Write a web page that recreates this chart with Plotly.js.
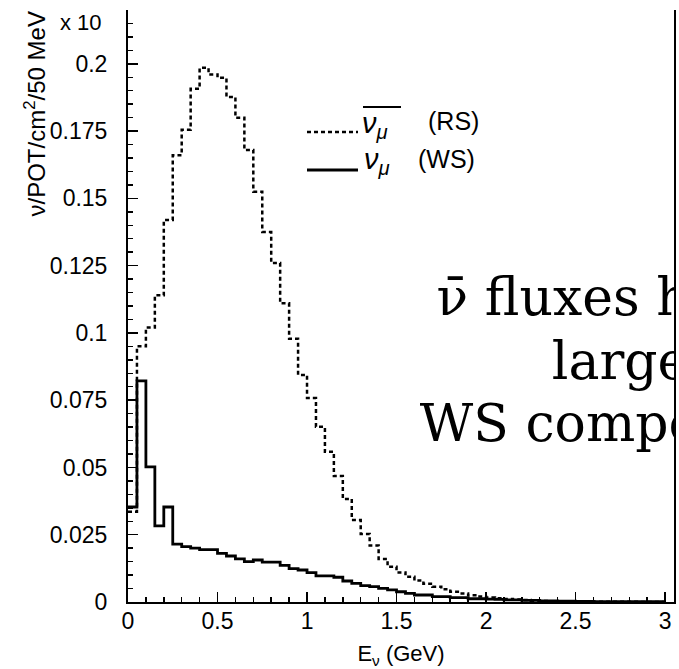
<!DOCTYPE html>
<html>
<head>
<meta charset="utf-8">
<script src="https://cdn.plot.ly/plotly-3.0.1.min.js"></script>
<style>html,body{margin:0;padding:0;background:#fff;}#chart{width:679px;height:669px;}</style>
</head>
<body>
<div id="chart"></div>
<script>
// Energy bins: lower edges (GeV), 50 MeV wide
const binLow = [0.00,0.05,0.10,0.15,0.20,0.25,0.30,0.35,0.40,0.45,
  0.50,0.55,0.60,0.65,0.70,0.75,0.80,0.85,0.90,0.95,
  1.00,1.05,1.10,1.15,1.20,1.25,1.30,1.35,1.40,1.45,
  1.50,1.55,1.60,1.65,1.70,1.75,1.80,1.85,1.90,1.95,
  2.00,2.05,2.10,2.15,2.20,2.25,2.30,2.35,2.40,2.45,
  2.50,2.55,2.60,2.65,2.70,2.75,2.80,2.85,2.90,2.95];
const binWidth = 0.05;
// anti-numu right-sign flux
const fluxRS = [0.0335,0.095,0.102,0.114,0.142,0.166,0.1755,0.1907,0.1985,0.196,
  0.1948,0.1877,0.180,0.168,0.1525,0.1375,0.126,0.111,0.0978,0.0844,
  0.0758,0.0651,0.0558,0.0468,0.0383,0.0305,0.0253,0.021,0.016,0.0131,
  0.0110,0.0094,0.0080,0.0068,0.0057,0.0047,0.0038,0.0032,0.0025,0.0020,
  0.0017,0.0014,0.0011,0.0009,0.0007,0.0005,0.0004,0.0003,0.0002,0.0002,
  0.0001,0.0001,0.0001,0.0001,0.0001,0.0001,0.0001,0.0,0.0,0.0];
// numu wrong-sign flux
const fluxWS = [0.0353,0.0822,0.0502,0.0283,0.0353,0.0215,0.0206,0.0200,0.0195,0.0195,
  0.0181,0.0171,0.0160,0.0150,0.0156,0.0148,0.0148,0.0136,0.0124,0.0119,
  0.0109,0.0097,0.0097,0.0092,0.0078,0.0069,0.0061,0.0057,0.0051,0.0045,
  0.0038,0.0032,0.0026,0.0026,0.0020,0.0020,0.0016,0.0016,0.0012,0.0012,
  0.0011,0.0010,0.0008,0.0008,0.0006,0.0006,0.0004,0.0004,0.0003,0.0003,
  0.0002,0.0002,0.0001,0.0001,0.0001,0.0001,0.0001,0.0001,0.0001,0.0001];
const xTickVals = [0,0.5,1,1.5,2,2.5,3];
const xTickText = ['0','0.5','1','1.5','2','2.5','3'];
const yTickVals = [0,0.025,0.05,0.075,0.1,0.125,0.15,0.175,0.2];
const yTickText = ['0','0.025','0.05','0.075','0.1','0.125','0.15','0.175','0.2'];
const overlayLines = ['\u03bd\u0304 fluxes have a','larger','WS components'];

// step-histogram helper (bin edges + values)
function stepX(){ return binLow.concat([binLow[binLow.length-1]+binWidth]); }
function stepY(v){ return v.concat([v[v.length-1]]); }

// layout geometry (pixels)
const W=679,H=669,L=128,R=674,T=10,B=602;
const XMAX=3.05, YMAX=0.22;
const pxX = p => (p-L)/(R-L);
const pxY = p => (B-p)/(B-T);
const dataX = p => pxX(p)*XMAX;
const dataY = p => pxY(p)*YMAX;

const FONT = 'Liberation Sans, Arial, sans-serif';

const traces = [
  {x: stepX(), y: stepY(fluxRS), type:'scatter', mode:'lines', name:'anti-nu_mu (RS)',
   line:{shape:'hv', color:'#000', width:2.5, dash:'4px,3px'}, hoverinfo:'skip'},
  {x: stepX(), y: stepY(fluxWS), type:'scatter', mode:'lines', name:'nu_mu (WS)',
   line:{shape:'hv', color:'#000', width:2.8}, hoverinfo:'skip'},
  {x: [dataX(632.5),dataX(632.5),dataX(632.5)], y:[dataY(302),dataY(366),dataY(428)],
   text: overlayLines, type:'scatter', mode:'text', textposition:'middle center',
   cliponaxis:true, hoverinfo:'skip', showlegend:false,
   textfont:{family:'DejaVu Serif, serif', size:52, color:'#000'}}
];

const layout = {
  width:W, height:H,
  margin:{l:L, r:W-R, t:T, b:H-B, pad:0},
  paper_bgcolor:'#fff', plot_bgcolor:'#fff',
  showlegend:false,
  font:{family:FONT, color:'#000', size:23},
  xaxis:{range:[0,XMAX], tickmode:'array', tickvals:xTickVals, ticktext:xTickText,
    ticks:'inside', ticklen:10, tickwidth:1.5, tickcolor:'#000',
    minor:{dtick:0.1, tick0:0, ticks:'inside', ticklen:5, tickwidth:1.5, tickcolor:'#000'},
    showline:true, linewidth:2, linecolor:'#000', mirror:false,
    showgrid:false, zeroline:false, ticklabelstandoff:-3,
    tickfont:{family:FONT, size:23, color:'#000'},
    title:{text:'E<sub>\u03bd</sub> (GeV)', font:{family:FONT, size:22, color:'#000'}, standoff:14}},
  yaxis:{range:[0,YMAX], tickmode:'array', tickvals:yTickVals, ticktext:yTickText,
    ticks:'inside', ticklen:10, tickwidth:1.5, tickcolor:'#000',
    minor:{dtick:0.005, tick0:0, ticks:'inside', ticklen:5, tickwidth:1.5, tickcolor:'#000'},
    showline:true, linewidth:2, linecolor:'#000', mirror:true,
    showgrid:false, zeroline:false, ticklabelstandoff:14,
    tickfont:{family:FONT, size:23, color:'#000'}},
  shapes:[
    {type:'line', xref:'paper', yref:'paper', x0:pxX(307), x1:pxX(358), y0:pxY(132), y1:pxY(132),
     line:{color:'#000', width:2.5, dash:'4px,3px'}},
    {type:'line', xref:'paper', yref:'paper', x0:pxX(307), x1:pxX(358), y0:pxY(170), y1:pxY(170),
     line:{color:'#000', width:2.8}},
    {type:'line', xref:'paper', yref:'paper', x0:pxX(363), x1:pxX(401), y0:pxY(107), y1:pxY(107),
     line:{color:'#000', width:2}}
  ],
  annotations:[
    {xref:'paper', yref:'paper', x:pxX(360), y:pxY(125), xanchor:'left', yanchor:'middle',
     text:'<i>\u03bd</i><sub><i>\u03bc</i></sub>', showarrow:false,
     font:{family:FONT, size:29, color:'#000'}},
    {xref:'paper', yref:'paper', x:pxX(426), y:pxY(121), xanchor:'left', yanchor:'middle',
     text:'(RS)', showarrow:false, font:{family:FONT, size:25, color:'#000'}},
    {xref:'paper', yref:'paper', x:pxX(362), y:pxY(161), xanchor:'left', yanchor:'middle',
     text:'<i>\u03bd</i><sub><i>\u03bc</i></sub>', showarrow:false,
     font:{family:FONT, size:29, color:'#000'}},
    {xref:'paper', yref:'paper', x:pxX(416), y:pxY(159), xanchor:'left', yanchor:'middle',
     text:'(WS)', showarrow:false, font:{family:FONT, size:25, color:'#000'}},
    {xref:'paper', yref:'paper', x:pxX(34), y:1, xanchor:'center', yanchor:'top', textangle:-90,
     text:'\u03bd/POT/cm<sup>2</sup>/50 MeV', showarrow:false,
     font:{family:FONT, size:24, color:'#000'}},
    {xref:'paper', yref:'paper', x:pxX(58), y:pxY(22), xanchor:'left', yanchor:'middle',
     text:'x 10', showarrow:false, font:{family:FONT, size:22, color:'#000'}}
  ]
};

Plotly.newPlot('chart', traces, layout, {staticPlot:true, displayModeBar:false});
</script>
</body>
</html>
